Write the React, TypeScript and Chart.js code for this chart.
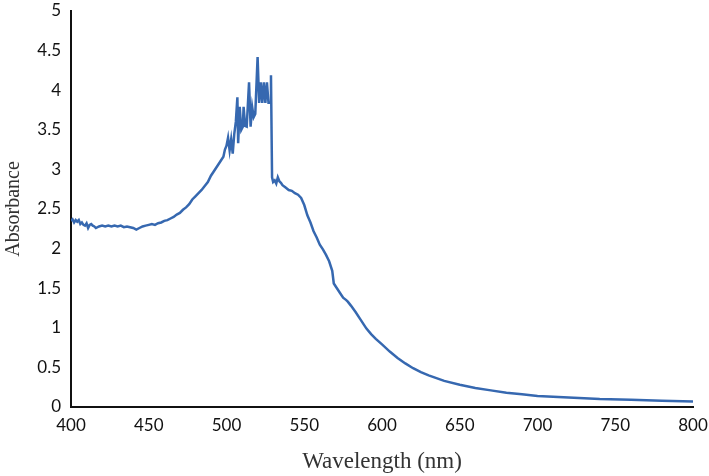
import React, { useEffect, useRef } from "react";
import { Chart, registerables } from "chart.js";

Chart.register(...registerables);

const wavelengths: number[] = [
  400, 401, 402, 403, 404, 405, 406, 407, 408, 409, 410, 411, 412, 413, 414, 415, 416, 418, 420, 422,
  424, 426, 428, 430, 432, 434, 436, 438, 440, 442, 444, 446, 448, 450, 452, 454, 456, 458, 460, 462,
  464, 466, 468, 470, 472, 474, 476, 478, 480, 482, 484, 486, 488, 490, 492, 494, 496, 498, 499, 500,
  501, 502, 503, 504, 505, 506, 507, 507.5, 508.5, 509.5, 510.5, 511, 512, 513, 514.5, 515.5, 516.5, 517.5, 518.5, 520,
  521, 522, 523, 524, 525, 526, 527, 528, 528.6, 529.3, 530, 531, 532, 533, 534, 535, 536, 538, 540, 542,
  544, 546, 548, 550, 552, 554, 556, 558, 560, 562, 564, 566, 568, 569, 571, 573, 575, 577, 578, 580,
  583, 586, 588, 590, 593, 596, 600, 605, 610, 615, 620, 625, 630, 640, 650, 660, 670, 680, 690, 700,
  710, 720, 740, 760, 780, 800,
];

const absorbance: number[] = [
  2.35, 2.37, 2.33, 2.36, 2.34, 2.36, 2.31, 2.33, 2.30, 2.29, 2.32, 2.26, 2.30, 2.31, 2.29, 2.28, 2.26, 2.28, 2.29, 2.28,
  2.29, 2.28, 2.29, 2.28, 2.29, 2.27, 2.28, 2.27, 2.26, 2.24, 2.26, 2.28, 2.29, 2.30, 2.31, 2.30, 2.32, 2.33, 2.35, 2.36,
  2.38, 2.40, 2.43, 2.45, 2.49, 2.52, 2.56, 2.62, 2.66, 2.70, 2.74, 2.79, 2.84, 2.92, 2.98, 3.04, 3.10, 3.16, 3.25, 3.30,
  3.40, 3.24, 3.38, 3.20, 3.45, 3.60, 3.91, 3.33, 3.79, 3.50, 3.54, 3.79, 3.55, 3.54, 4.10, 3.54, 3.79, 3.66, 3.70, 4.42,
  3.84, 4.10, 3.84, 4.10, 3.84, 4.10, 3.84, 3.84, 4.19, 2.90, 2.84, 2.86, 2.82, 2.90, 2.85, 2.83, 2.80, 2.77, 2.74, 2.73,
  2.70, 2.68, 2.64, 2.55, 2.42, 2.33, 2.22, 2.14, 2.05, 1.99, 1.92, 1.84, 1.72, 1.56, 1.50, 1.44, 1.38, 1.35, 1.33, 1.28,
  1.20, 1.11, 1.05, 0.99, 0.92, 0.86, 0.79, 0.70, 0.62, 0.55, 0.49, 0.44, 0.40, 0.33, 0.28, 0.24, 0.21, 0.18, 0.16, 0.14,
  0.13, 0.12, 0.10, 0.09, 0.08, 0.07,
];

const xTitle = "Wavelength (nm)";
const yTitle = "Absorbance";

export default function App() {
  const ref = useRef<HTMLCanvasElement | null>(null);

  useEffect(() => {
    document.body.style.margin = "0";
    const canvas = ref.current;
    if (!canvas) return;
    const points = wavelengths.map((w, i) => ({ x: w, y: absorbance[i] }));
    const tickFont = { family: "Lato, 'Open Sans', sans-serif", size: 17 };
    const chart = new Chart(canvas, {
      type: "line",
      data: {
        datasets: [
          {
            data: points,
            borderColor: "#3668b0",
            borderWidth: 2.5,
            pointRadius: 0,
            tension: 0,
            fill: false,
          },
        ],
      },
      options: {
        animation: false,
        responsive: false,
        maintainAspectRatio: false,
        layout: { padding: { top: 11, right: 16, left: 0, bottom: 0 } },
        plugins: { legend: { display: false }, tooltip: { enabled: false } },
        scales: {
          x: {
            type: "linear",
            min: 400,
            max: 800,
            grid: { display: false, drawTicks: false },
            border: { display: true, color: "#111", width: 2 },
            ticks: { stepSize: 50, color: "#111", font: tickFont, padding: 8, maxRotation: 0 },
            title: {
              display: true,
              text: xTitle,
              color: "#333",
              font: { family: "'Liberation Serif', 'Times New Roman', serif", size: 23 },
              padding: { top: 0, bottom: 0 },
            },
            afterFit: (s: any) => {
              s.height = 69;
              s.paddingLeft = 0;
              s.paddingRight = 0;
            },
          },
          y: {
            min: 0,
            max: 5,
            grid: { display: false, drawTicks: false },
            border: { display: true, color: "#111", width: 2 },
            ticks: {
              stepSize: 0.5,
              color: "#111",
              font: tickFont,
              padding: 10,
              callback: (v: any) => String(Math.round(Number(v) * 10) / 10),
            },
            title: {
              display: true,
              text: yTitle,
              color: "#333",
              font: { family: "'Liberation Serif', 'Times New Roman', serif", size: 20 },
              padding: { top: 2, bottom: 0 },
            },
            afterFit: (s: any) => {
              s.width = 71;
              s.paddingTop = 0;
              s.paddingBottom = 0;
            },
          },
        },
      },
    });
    return () => chart.destroy();
  }, []);

  return (
    <div style={{ width: 709, height: 476, background: "#fff" }}>
      <canvas ref={ref} width={709} height={476} style={{ display: "block" }} />
    </div>
  );
}
